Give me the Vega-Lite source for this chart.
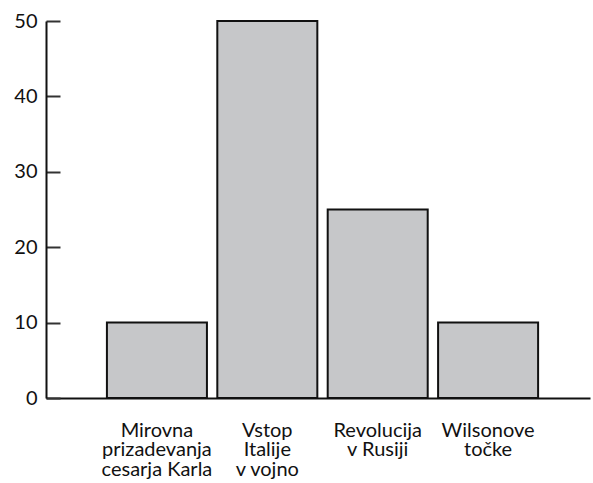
{
  "$schema": "https://vega.github.io/schema/vega-lite/v6.json",
  "width": 544,
  "height": 377,
  "autosize": {"type": "none"},
  "padding": {"left": 46, "top": 21, "right": 3, "bottom": 85},
  "background": "white",
  "config": {"view": {"stroke": null}, "font": "Lato"},
  "data": {
    "values": [
      {"kategorija": "Mirovna|prizadevanja|cesarja Karla", "vrednost": 10},
      {"kategorija": "Vstop|Italije|v vojno", "vrednost": 50},
      {"kategorija": "Revolucija|v Rusiji", "vrednost": 25},
      {"kategorija": "Wilsonove|točke", "vrednost": 10}
    ]
  },
  "mark": {"type": "bar", "fill": "#c6c7c9", "stroke": "#111111", "strokeWidth": 2},
  "encoding": {
    "x": {
      "field": "kategorija",
      "type": "nominal",
      "sort": null,
      "scale": {"paddingInner": 0.094, "paddingOuter": 0.511, "align": 0.54},
      "axis": {
        "title": null,
        "ticks": false,
        "labelAngle": 0,
        "labelExpr": "split(datum.label, '|')",
        "labelFont": "Lato",
        "labelFontSize": 20,
        "labelColor": "#111111",
        "labelLineHeight": 19.5,
        "labelPadding": 22,
        "labelLimit": 0,
        "domainColor": "#111111",
        "domainWidth": 2
      }
    },
    "y": {
      "field": "vrednost",
      "type": "quantitative",
      "scale": {"domain": [0, 50], "nice": false},
      "axis": {
        "title": null,
        "values": [0, 10, 20, 30, 40, 50],
        "grid": false,
        "tickSize": -14,
        "tickWidth": 2,
        "tickColor": "#333333",
        "labelFont": "Lato",
        "labelFontSize": 20,
        "labelColor": "#111111",
        "labelPadding": 23,
        "domainColor": "#111111",
        "domainWidth": 2
      }
    }
  }
}
